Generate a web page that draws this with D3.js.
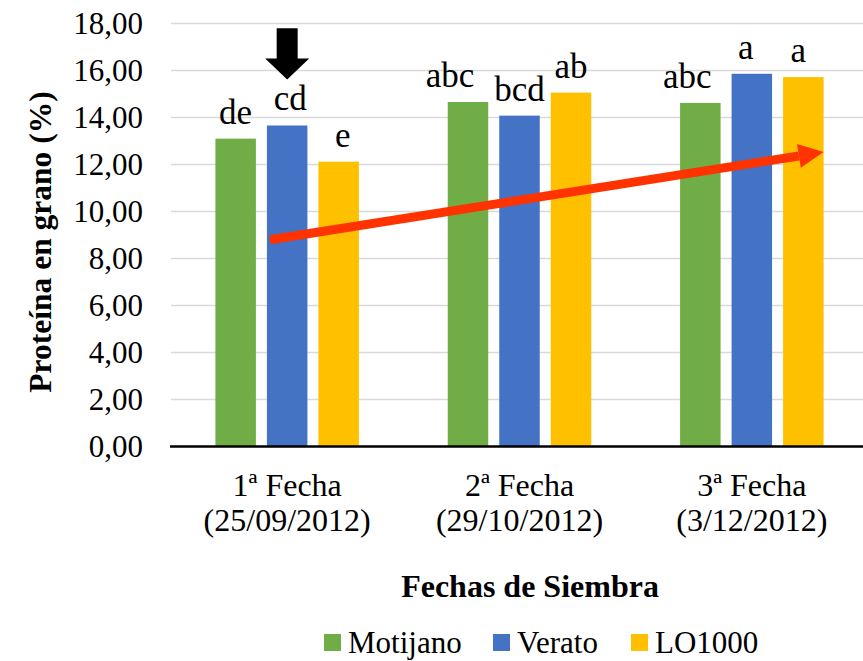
<!DOCTYPE html>
<html lang="es">
<head>
  <meta charset="UTF-8" />
  <title>Proteína en grano</title>
  <script src="https://d3js.org/d3.v7.min.js"></script>
  <style>
    body { margin: 0; background: #fff; }
    svg text { font-family: "Liberation Serif", "Times New Roman", Times, "DejaVu Serif", serif; }
  </style>
</head>
<body>
  <svg id="chart" width="863" height="661"></svg>

  <script>
    // data
    const fechas = ['1ª Fecha|(25/09/2012)', '2ª Fecha|(29/10/2012)', '3ª Fecha|(3/12/2012)'];
    const series = ['Motijano', 'Verato', 'LO1000'];
    const colors = ['#70AD47', '#4472C4', '#FFC000'];
    const motijano = [13.1, 14.66, 14.62];
    const verato = [13.66, 14.08, 15.86];
    const lo1000 = [12.12, 15.06, 15.72];
    const letrasMotijano = ['de', 'abc', 'abc'];
    const letrasVerato = ['cd', 'bcd', 'a'];
    const letrasLO1000 = ['e', 'ab', 'a'];
    const yTicks = [0, 2, 4, 6, 8, 10, 12, 14, 16, 18];
    // trend arrow, y in data units
    const tendencia = [8.8, 12.53];
    // black arrow over Verato of 1st date, y in data units
    const flechaNegra = [17.8, 15.62];

    const values = [motijano, verato, lo1000];
    const letras = [letrasMotijano, letrasVerato, letrasLO1000];
    const serif = '"Liberation Serif", "Times New Roman", Times, "DejaVu Serif", serif';
    // the letter labels were nudged by hand in the original
    const nudge = { '1-0': -18, '2-0': -13, '0-1': 3, '0-2': 4, '2-1': -6, '2-2': -5 };

    const svg = d3.select('#chart');
    const plot = { left: 171, right: 868, top: 23.5, bottom: 446.5 };

    const x0 = d3.scaleBand().domain(fechas).range([plot.left, plot.right]);
    const x1 = d3.scaleBand().domain(series).range([0, x0.bandwidth()])
      .paddingInner(0.214).paddingOuter(0.862);
    const y = d3.scaleLinear().domain([0, 18]).range([plot.bottom, plot.top]);

    // gridlines
    svg.append('g')
      .selectAll('line')
      .data(yTicks.filter(d => d > 0))
      .join('line')
      .attr('x1', plot.left).attr('x2', plot.right)
      .attr('y1', d => y(d)).attr('y2', d => y(d))
      .attr('stroke', '#D9D9D9').attr('stroke-width', 1.5);

    // y axis labels
    const yAxis = svg.append('g')
      .attr('transform', `translate(${plot.left - 28},0)`)
      .call(d3.axisLeft(y).tickValues(yTicks).tickSize(0)
        .tickFormat(d => d3.format('.2f')(d).replace('.', ',')));
    yAxis.attr('font-family', serif);
    yAxis.select('.domain').remove();
    yAxis.selectAll('text')
      .attr('font-size', 31).attr('fill', '#000').attr('x', 0).attr('dy', '0.33em');

    // bars
    const rows = [];
    fechas.forEach((f, i) => series.forEach((s, j) => {
      rows.push({ fecha: f, serie: s, value: values[j][i], letra: letras[j][i], color: colors[j], key: `${i}-${j}` });
    }));

    const groups = svg.append('g').selectAll('g')
      .data(rows)
      .join('g')
      .attr('transform', d => `translate(${x0(d.fecha) + x1(d.serie)},0)`);

    groups.append('rect')
      .attr('x', 0).attr('width', x1.bandwidth())
      .attr('y', d => y(d.value)).attr('height', d => y(0) - y(d.value))
      .attr('fill', d => d.color);

    groups.append('text')
      .attr('x', d => x1.bandwidth() / 2 + (nudge[d.key] || 0))
      .attr('y', d => y(d.value) - 15)
      .attr('text-anchor', 'middle')
      .attr('font-size', 35)
      .text(d => d.letra);

    // baseline
    svg.append('line')
      .attr('x1', plot.left - 1).attr('x2', plot.right)
      .attr('y1', y(0)).attr('y2', y(0))
      .attr('stroke', '#000').attr('stroke-width', 2.5);

    // category labels
    const cat = svg.append('g').selectAll('text')
      .data(fechas)
      .join('text')
      .attr('x', d => x0(d) + x0.bandwidth() / 2)
      .attr('y', 496)
      .attr('text-anchor', 'middle')
      .attr('font-size', 32);
    cat.selectAll('tspan')
      .data(d => d.split('|'))
      .join('tspan')
      .attr('x', function () { return this.parentNode.getAttribute('x'); })
      .attr('dy', (d, i) => i === 0 ? 0 : 35)
      .text(d => d);

    // axis titles
    svg.append('text')
      .attr('transform', `translate(51,${(plot.top + plot.bottom) / 2 + 7}) rotate(-90)`)
      .attr('text-anchor', 'middle')
      .attr('font-size', 31.5).attr('font-weight', 'bold')
      .text('Proteína en grano (%)');

    svg.append('text')
      .attr('x', 530).attr('y', 597)
      .attr('text-anchor', 'middle')
      .attr('font-size', 32).attr('font-weight', 'bold')
      .text('Fechas de Siembra');

    // legend
    const legendX = [324, 493, 631];
    const legend = svg.append('g').selectAll('g')
      .data(series)
      .join('g')
      .attr('transform', (d, i) => `translate(${legendX[i]},634)`);
    legend.append('rect')
      .attr('width', 17).attr('height', 17)
      .attr('fill', (d, i) => colors[i]);
    legend.append('text')
      .attr('x', 24).attr('y', 19)
      .attr('font-size', 31)
      .text(d => d);

    // black arrow over Verato, 1st date
    const bx = x0(fechas[0]) + x1('Verato') + x1.bandwidth() / 2;
    const yTop = y(flechaNegra[0]), yTip = y(flechaNegra[1]);
    const yNeck = yTip - 21;
    svg.append('path')
      .attr('d', `M${bx - 10.5},${yTop} L${bx + 10.5},${yTop} L${bx + 10.5},${yNeck} L${bx + 22},${yNeck}
        L${bx},${yTip} L${bx - 22},${yNeck} L${bx - 10.5},${yNeck} Z`)
      .attr('fill', '#000');

    // red trend arrow
    const sx = x0(fechas[0]) + x1('Verato') + 3, sy = y(tendencia[0]);
    const ex = x0(fechas[2]) + x1('LO1000') + x1.bandwidth(), ey = y(tendencia[1]);
    const ang = Math.atan2(ey - sy, ex - sx);
    const headLen = 25, headHalf = 12;
    const bxh = ex - headLen * Math.cos(ang), byh = ey - headLen * Math.sin(ang);
    svg.append('line')
      .attr('x1', sx).attr('y1', sy).attr('x2', bxh).attr('y2', byh)
      .attr('stroke', '#FF3300').attr('stroke-width', 9);
    svg.append('path')
      .attr('d', `M${ex},${ey}
        L${bxh + headHalf * Math.sin(ang)},${byh - headHalf * Math.cos(ang)}
        L${bxh - headHalf * Math.sin(ang)},${byh + headHalf * Math.cos(ang)} Z`)
      .attr('fill', '#FF3300');
  </script>
</body>
</html>
